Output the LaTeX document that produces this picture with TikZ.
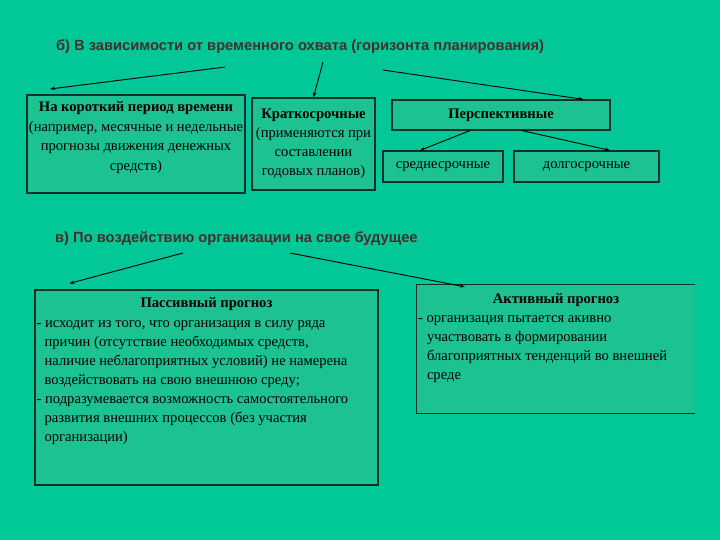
\documentclass[tikz,border=0pt]{standalone}
\usepackage{fontspec}
\setmainfont{Liberation Serif}
\setsansfont{Liberation Sans}
\definecolor{slidebg}{HTML}{02C897}
\definecolor{boxfill}{HTML}{1CC291}
\definecolor{boxline}{HTML}{10302A}
\definecolor{headred}{HTML}{4A2C2C}
\usetikzlibrary{arrows.meta, positioning, calc}
\tikzset{
	hdr/.style={font=\sffamily\bfseries\fontsize{14.7}{16}\selectfont, text=headred, inner sep=0pt},
	tbox/.style={draw=boxline, fill=boxfill, line width=1.2pt, align=center,
		font=\fontsize{14.6}{19}\selectfont, inner sep=2pt, text=black},
	ptext/.style={align=left, font=\fontsize{14.6}{19}\selectfont, inner sep=0pt, text=black},
	tarr/.style={-{Stealth[length=5pt,width=3.5pt]}, line width=0.9pt, draw=black}
}
\begin{document}
\begin{tikzpicture}[x=1pt, y=-1pt]
	\path[fill=slidebg] (0,0) rectangle (720,540);
	% horizon of planning
	\node[hdr] (hdrtime) at (300,47) {б) В зависимости от временного охвата (горизонта планирования)};
	\coordinate (tl) at (225,67);
	\coordinate (tm) at (323,62);
	\coordinate (tr) at (383,70);
	\node[tbox, minimum width=218, minimum height=98] (short) at (136,144) {};
	\node[ptext, align=center, font=\fontsize{14.6}{19.6}\selectfont, below=7pt of short.north] (shorttxt)
		{\textbf{На короткий период времени}\\(например, месячные и недельные\\прогнозы движения денежных\\средств)};
	\node[tbox, minimum width=123, minimum height=92] (kratko) at (313.5,144)
		{\textbf{Краткосрочные}\\(применяются при\\составлении\\годовых планов)};
	\node[tbox, minimum width=218, minimum height=30] (persp) at (501,115) {\textbf{Перспективные}};
	\node[tbox, minimum width=120, minimum height=31] (sred) at (443,166.5) {среднесрочные};
	\node[tbox, minimum width=145, minimum height=31] (dolgo) at (586.5,166.5) {долгосрочные};
	\draw[tarr] (tl) -- (50,89);
	\draw[tarr] (tm) -- (kratko.north);
	\draw[tarr] (tr) -- ($(persp.north east)+(-27,0)$);
	\draw[tarr] ($(persp.south)+(-31,0)$) -- ($(sred.north)+(-23,0)$);
	\draw[tarr] ($(persp.south)+(21,0)$) -- ($(dolgo.north)+(23.5,0)$);

	% influence on the future
	\node[hdr, anchor=west] (hdrinfl) at (55,239) {в) По воздействию организации на свое будущее};
	\coordinate (il) at (183,253);
	\coordinate (ir) at (290,253);
	\node[tbox, minimum width=343, minimum height=195] (passive) at (206.5,387.5) {};
	\node[ptext, below=8pt of passive.north] (passivettl) {\textbf{Пассивный прогноз}};
	\node[ptext, anchor=north west] (passivetxt) at ($(passive.north west)+(2,31)$)
		{- исходит из того, что организация в силу ряда\\
		\hspace*{8pt}причин (отсутствие необходимых средств,\\
		\hspace*{8pt}наличие неблагоприятных условий) не намерена\\
		\hspace*{8pt}воздействовать на свою внешнюю среду;\\
		- подразумевается возможность самостоятельного\\
		\hspace*{8pt}развития внешних процессов (без участия\\
		\hspace*{8pt}организации)};
	\node[minimum width=278, minimum height=128, inner sep=0pt, fill=boxfill] (active) at (556,349) {};
	\draw[boxline, line width=1.2pt] (active.north east) -- (active.north west)
		-- (active.south west) -- (active.south east);
	\node[ptext, below=8pt of active.north] (activettl) {\textbf{Активный прогноз}};
	\node[ptext, anchor=north west] (activetxt) at ($(active.north west)+(1,31)$)
		{- организация пытается акивно\\
		\hspace*{9pt}участвовать в формировании\\
		\hspace*{9pt}благоприятных тенденций во внешней\\
		\hspace*{9pt}среде};
	\draw[tarr] (il) -- ($(passive.north west)+(35,-6)$);
	\draw[tarr] (ir) -- ($(active.north west)+(48,2)$);
\end{tikzpicture}
\end{document}
